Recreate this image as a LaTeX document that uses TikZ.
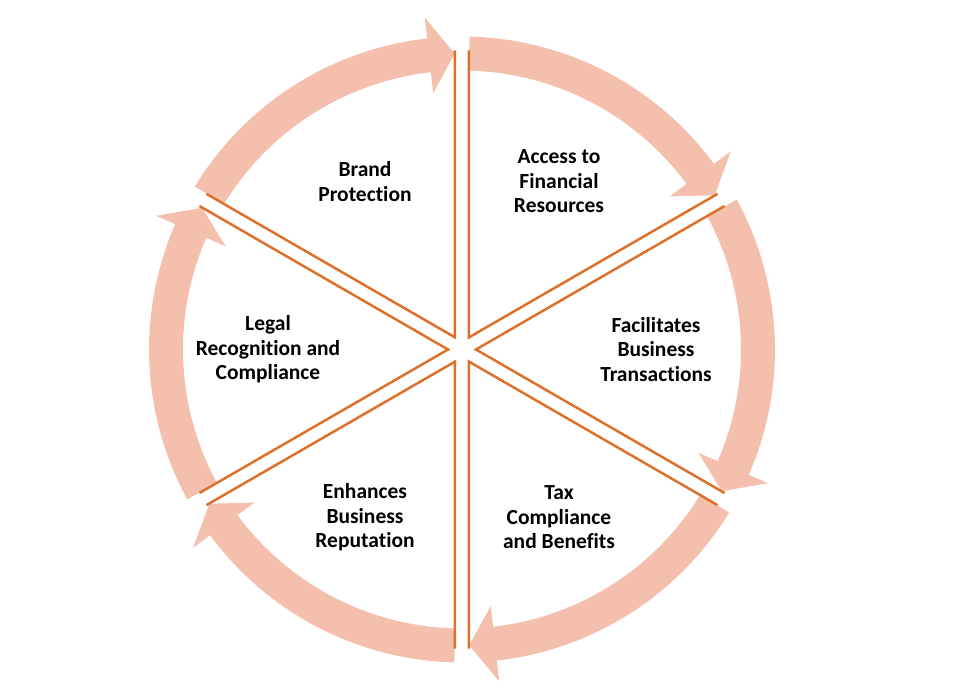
\documentclass[tikz,border=0pt]{standalone}
\usepackage{fontspec}
\setmainfont[Ligatures=NoCommon]{Carlito}
\usepackage{tikz}
\definecolor{lineorange}{RGB}{222,112,42}
\definecolor{arrowpink}{RGB}{244,192,173}

\begin{document}
\begin{tikzpicture}[x=1pt,y=1pt,
        edge/.style={color=lineorange,line width=2.5pt},
        cyclearrow/.style={fill=arrowpink,draw=none},
        sectortext/.style={font=\bfseries\fontsize{21.5}{24.5}\selectfont,align=center}]
            \useasboundingbox (-462,-349.5) rectangle (508,349.5);

            \fill[cyclearrow] (148.6:313) arc[start angle=148.6,end angle=96.4,radius=313] -- (96.4:334) -- (91.4:296) -- (96.4:258) -- (96.4:279) arc[start angle=96.4,end angle=148.6,radius=279] -- cycle;
            \coordinate (brandtip) at (120:14);
            \draw[edge] (brandtip) ++(150:287) -- (brandtip) -- ++(90:287);
            \node[sectortext] (brand) at (120:194) {Brand\\Protection};

            \fill[cyclearrow] (88.6:313) arc[start angle=88.6,end angle=36.4,radius=313] -- (36.4:334) -- (31.4:296) -- (36.4:258) -- (36.4:279) arc[start angle=36.4,end angle=88.6,radius=279] -- cycle;
            \coordinate (accesstip) at (60:14);
            \draw[edge] (accesstip) ++(90:287) -- (accesstip) -- ++(30:287);
            \node[sectortext] (access) at (60:194) {Access to\\Financial\\Resources};

            \fill[cyclearrow] (28.6:313) arc[start angle=28.6,end angle=-23.6,radius=313] -- (-23.6:334) -- (-28.6:296) -- (-23.6:258) -- (-23.6:279) arc[start angle=-23.6,end angle=28.6,radius=279] -- cycle;
            \coordinate (transtip) at (0:14);
            \draw[edge] (transtip) ++(30:287) -- (transtip) -- ++(-30:287);
            \node[sectortext] (trans) at (0:194) {Facilitates\\Business\\Transactions};

            \fill[cyclearrow] (-31.4:313) arc[start angle=-31.4,end angle=-83.6,radius=313] -- (-83.6:334) -- (-88.6:296) -- (-83.6:258) -- (-83.6:279) arc[start angle=-83.6,end angle=-31.4,radius=279] -- cycle;
            \coordinate (taxtip) at (-60:14);
            \draw[edge] (taxtip) ++(-30:287) -- (taxtip) -- ++(-90:287);
            \node[sectortext] (tax) at (-60:194) {Tax\\Compliance\\and Benefits};

            \fill[cyclearrow] (-91.4:313) arc[start angle=-91.4,end angle=-143.6,radius=313] -- (-143.6:334) -- (-148.6:296) -- (-143.6:258) -- (-143.6:279) arc[start angle=-143.6,end angle=-91.4,radius=279] -- cycle;
            \coordinate (reptip) at (-120:14);
            \draw[edge] (reptip) ++(-90:287) -- (reptip) -- ++(-150:287);
            \node[sectortext] (rep) at (-120:194) {Enhances\\Business\\Reputation};

            \fill[cyclearrow] (208.6:313) arc[start angle=208.6,end angle=156.4,radius=313] -- (156.4:334) -- (151.4:296) -- (156.4:258) -- (156.4:279) arc[start angle=156.4,end angle=208.6,radius=279] -- cycle; % last one closes the cycle
            \coordinate (legaltip) at (180:14);
            \draw[edge] (legaltip) ++(210:287) -- (legaltip) -- ++(150:287);
            \node[sectortext] (legal) at (180:194) {Legal\\Recognition and\\Compliance};
        \end{tikzpicture}
\end{document}
